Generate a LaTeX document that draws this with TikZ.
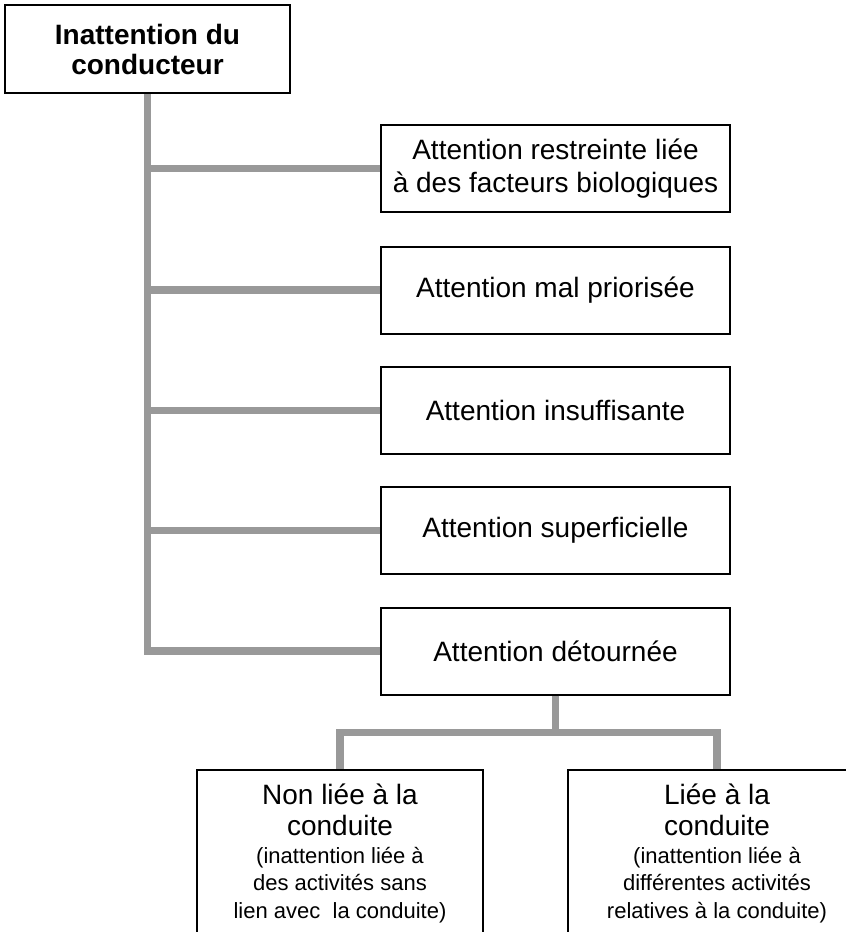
\documentclass[tikz,border=0pt]{standalone}
\usepackage{fontspec}
\setmainfont{Liberation Sans}
\definecolor{linkgray}{HTML}{999999}
\tikzset{
    box/.style={draw, line width=2pt, minimum width=349pt, minimum height=87pt,
        inner sep=0pt, align=center, font=\fontsize{28}{33}\selectfont},
    subbox/.style={box, anchor=north, inner ysep=14pt, align=flush center,
        font=\fontsize{28}{31}\selectfont},
    link/.style={draw=linkgray, line width=7.5pt, line join=miter},
}
\newcommand\detail[1]{{\fontsize{22}{27.5}\selectfont #1\par}}
\begin{document}
\begin{tikzpicture}[x=1pt,y=-1pt]
    \useasboundingbox (0,0) rectangle (846,932);

    \node[box, minimum width=285pt, minimum height=88pt,
        font=\bfseries\fontsize{28}{30}\selectfont] (driver) at (147.5,49) {Inattention du\\conducteur};

    \node[box] (b1) at (555.5,168.5) {Attention restreinte liée\\à des facteurs biologiques};
    \node[box] (b2) at (555.5,290) {Attention mal priorisée};
    \node[box] (b3) at (555.5,410.5) {Attention insuffisante};
    \node[box] (b4) at (555.5,530.5) {Attention superficielle};
    \node[box] (b5) at (555.5,651) {Attention détournée};

    \node[subbox, minimum width=286pt, text width=270pt] (nonliee) at (340,769)
        {Non liée à la\\conduite\par
         \detail{(inattention liée à\\des activités sans\\lien avec~ la conduite)}};
    \node[subbox, minimum width=298pt, text width=282pt] (liee) at (717,769)
        {Liée à la\\conduite\par
         \detail{(inattention liée à\\différentes activités\\relatives à la conduite)}};

    % trunk and branches
    \draw[link] (driver.south) |- (b5.west);
    \foreach \b in {b1,b2,b3,b4}
        \draw[link] (driver.south |- \b.west) -- (\b.west);

    % fork below the last box
    \draw[link] (b5.south) -- ++(0,37) coordinate (fork);
    \draw[link] (fork) -| (nonliee.north);
    \draw[link] (fork) -| (liee.north);
\end{tikzpicture}
\end{document}
